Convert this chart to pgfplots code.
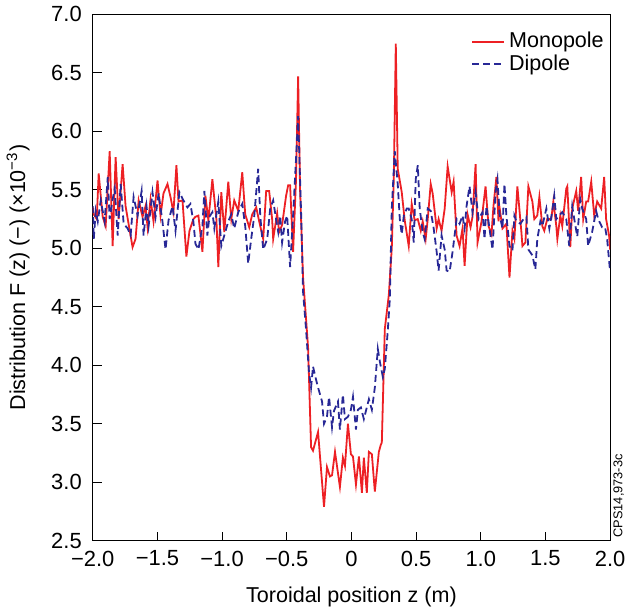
\documentclass[border=0pt]{standalone}
\usepackage{pgfplots}
\pgfplotsset{compat=1.18}
\usepackage{fontspec}
\setmainfont{Liberation Sans}
\definecolor{monored}{RGB}{237,32,36}
\definecolor{dipblue}{RGB}{40,40,150}
\begin{document}
\begin{tikzpicture}
\begin{axis}[
  scale only axis,
  clip mode=individual,
  width=259.5pt, height=264pt,
  xmin=-2, xmax=2, ymin=2.5, ymax=7.0,
  xtick={-2,-1.5,-1,-0.5,0,0.5,1,1.5,2},
  xticklabels={−2.0,−1.5,−1.0,−0.5,0,0.5,1.0,1.5,2.0},
  ytick={2.5,3,3.5,4,4.5,5,5.5,6,6.5,7},
  yticklabels={2.5,3.0,3.5,4.0,4.5,5.0,5.5,6.0,6.5,7.0},
  tick align=inside,
  xtick pos=bottom, ytick pos=left,
  major tick length=4.5pt,
  tick style={black, line width=0.5pt},
  axis line style={line width=0.6pt},
  ticklabel style={font=\fontsize{11}{12}\selectfont},
  yticklabel style={xshift=-2pt},
  xticklabel style={yshift=-1.5pt},
  label style={font=\fontsize{10.8}{12}\selectfont},
  xlabel={Toroidal position z (m)},
  ylabel={Distribution F (z) (−) (×10\textsuperscript{−3})},
  xlabel style={yshift=-3.5pt},
  ylabel style={yshift=4pt},
  legend style={at={(rel axis cs:1.0,0.978)}, anchor=north east, draw=none, fill=none,
    font=\fontsize{10.8}{12}\selectfont, row sep=-2pt, inner sep=1pt},
  legend cell align=left,
  legend image code/.code={\draw[#1] (0pt,0pt) -- (16pt,0pt);},
]
\addplot[monored, line width=0.9pt] coordinates {
(-2.000,5.35) (-1.992,5.29) (-1.969,5.25) (-1.954,5.64) (-1.923,5.27) (-1.900,5.19)
(-1.869,5.83) (-1.846,5.02) (-1.823,5.78) (-1.800,5.25) (-1.769,5.72) (-1.746,5.36)
(-1.723,5.21) (-1.692,5.01) (-1.669,5.08) (-1.645,5.41) (-1.615,5.27) (-1.592,5.36)
(-1.576,5.18) (-1.553,5.42) (-1.530,5.23) (-1.499,5.58) (-1.476,5.28) (-1.453,5.47)
(-1.422,5.55) (-1.399,5.44) (-1.376,5.31) (-1.353,5.71) (-1.337,5.40) (-1.306,5.41)
(-1.276,4.93) (-1.252,5.15) (-1.222,5.25) (-1.206,5.27) (-1.183,5.28) (-1.152,4.97)
(-1.129,5.45) (-1.106,5.24) (-1.075,5.59) (-1.044,5.25) (-1.029,4.84) (-1.006,5.48)
(-0.983,5.14) (-0.952,5.57) (-0.929,5.25) (-0.906,5.41) (-0.875,5.32) (-0.844,5.65)
(-0.821,5.29) (-0.790,5.18) (-0.767,5.29) (-0.736,5.35) (-0.713,5.23) (-0.682,5.08)
(-0.659,5.49) (-0.636,5.49) (-0.613,5.25) (-0.605,5.08) (-0.574,5.30) (-0.559,5.14)
(-0.536,5.20) (-0.505,5.45) (-0.489,5.54) (-0.474,5.54) (-0.451,4.97) (-0.428,5.60)
(-0.412,6.47) (-0.397,5.50) (-0.374,4.75) (-0.351,4.40) (-0.335,4.15) (-0.312,3.30)
(-0.297,3.27) (-0.258,3.43) (-0.212,2.79) (-0.189,3.13) (-0.166,3.05) (-0.150,3.06)
(-0.127,3.26) (-0.089,2.96) (-0.066,3.21) (-0.050,3.14) (-0.027,3.50) (-0.004,3.24)
(0.012,3.22) (0.035,2.98) (0.058,3.22) (0.081,2.91) (0.096,3.21) (0.119,2.91)
(0.135,3.26) (0.158,3.24) (0.181,2.92) (0.212,3.26) (0.227,3.32) (0.235,3.34)
(0.258,4.31) (0.289,4.60) (0.312,5.00) (0.328,5.62) (0.343,6.75) (0.358,5.68)
(0.389,5.48) (0.412,5.24) (0.443,5.02) (0.466,5.38) (0.489,5.24) (0.513,5.25)
(0.536,5.15) (0.551,5.23) (0.574,5.08) (0.590,5.25) (0.613,5.55) (0.628,5.47)
(0.659,5.17) (0.674,5.25) (0.697,5.15) (0.721,5.34) (0.744,5.70) (0.775,5.48)
(0.790,5.57) (0.813,5.11) (0.836,5.02) (0.859,5.17) (0.875,4.85) (0.898,5.29)
(0.921,5.18) (0.936,5.27) (0.960,5.72) (0.975,5.05) (1.006,5.23) (1.021,5.38)
(1.037,5.53) (1.060,5.19) (1.083,5.12) (1.098,5.36) (1.121,5.61) (1.137,5.23)
(1.145,5.35) (1.168,5.17) (1.198,5.21) (1.222,4.75) (1.245,5.15) (1.260,5.08)
(1.283,5.53) (1.314,5.14) (1.322,5.02) (1.345,5.05) (1.368,5.53) (1.399,5.40)
(1.414,5.25) (1.437,5.28) (1.453,5.44) (1.476,5.19) (1.491,5.15) (1.514,5.25)
(1.545,5.25) (1.561,5.40) (1.584,5.19) (1.592,5.08) (1.615,5.28) (1.630,5.19)
(1.661,5.51) (1.669,5.53) (1.692,5.01) (1.707,5.34) (1.738,5.49) (1.753,5.32)
(1.776,5.61) (1.792,5.25) (1.815,5.40) (1.830,5.40) (1.854,5.57) (1.877,5.28)
(1.900,5.40) (1.931,5.34) (1.954,5.61) (1.969,5.25) (1.992,5.11) (2.000,4.99)
};
\addlegendentry{Monopole}
\addplot[dipblue, line width=0.9pt, dash pattern=on 3.5pt off 2pt] coordinates {
(-2.000,5.36) (-1.992,5.08) (-1.977,5.32) (-1.961,5.23) (-1.938,5.41) (-1.908,5.23)
(-1.884,5.61) (-1.869,5.25) (-1.846,5.42) (-1.830,5.51) (-1.807,5.11) (-1.784,5.55)
(-1.761,5.21) (-1.730,5.17) (-1.707,5.11) (-1.684,5.44) (-1.653,5.28) (-1.622,5.49)
(-1.607,5.11) (-1.584,5.36) (-1.568,5.19) (-1.538,5.48) (-1.514,5.27) (-1.491,5.47)
(-1.461,5.23) (-1.437,4.99) (-1.414,5.24) (-1.383,5.36) (-1.360,5.15) (-1.330,5.48)
(-1.299,5.41) (-1.268,5.35) (-1.245,5.38) (-1.222,5.23) (-1.206,5.04) (-1.183,4.99)
(-1.152,5.19) (-1.137,5.49) (-1.114,5.11) (-1.098,5.27) (-1.075,5.31) (-1.060,5.17)
(-1.029,5.40) (-1.006,5.02) (-0.983,5.11) (-0.952,5.23) (-0.929,5.29) (-0.906,5.17)
(-0.875,5.31) (-0.844,5.38) (-0.821,5.19) (-0.798,4.87) (-0.775,5.08) (-0.751,5.28)
(-0.721,5.68) (-0.705,5.28) (-0.682,4.99) (-0.651,5.08) (-0.628,5.34) (-0.605,5.41)
(-0.574,5.19) (-0.566,5.14) (-0.551,5.28) (-0.536,5.05) (-0.513,5.23) (-0.497,5.28)
(-0.474,4.84) (-0.451,5.28) (-0.428,5.77) (-0.412,6.13) (-0.389,5.30) (-0.374,4.63)
(-0.351,4.31) (-0.328,3.94) (-0.312,3.81) (-0.297,3.99) (-0.274,3.88) (-0.258,3.81)
(-0.227,3.69) (-0.212,3.50) (-0.189,3.56) (-0.173,3.73) (-0.150,3.47) (-0.135,3.61)
(-0.104,3.69) (-0.089,3.45) (-0.066,3.75) (-0.050,3.54) (-0.027,3.56) (-0.004,3.62)
(0.012,3.73) (0.035,3.45) (0.050,3.62) (0.073,3.64) (0.096,3.54) (0.135,3.71)
(0.158,3.62) (0.181,3.81) (0.204,4.14) (0.220,4.03) (0.243,3.90) (0.258,3.97)
(0.282,4.31) (0.297,4.57) (0.312,5.34) (0.335,5.83) (0.358,5.55) (0.374,5.25)
(0.389,5.12) (0.405,5.28) (0.428,5.34) (0.443,5.34) (0.466,5.25) (0.482,5.05)
(0.497,5.59) (0.513,5.71) (0.528,5.34) (0.551,5.14) (0.566,5.08) (0.590,5.34)
(0.613,5.32) (0.636,5.17) (0.659,4.97) (0.674,4.81) (0.697,5.11) (0.721,4.99)
(0.736,4.81) (0.759,4.80) (0.782,4.97) (0.813,5.25) (0.836,5.21) (0.859,5.28)
(0.875,5.17) (0.890,5.36) (0.913,5.53) (0.936,5.31) (0.960,5.48) (0.983,5.25)
(1.014,5.31) (1.029,5.08) (1.044,5.36) (1.067,5.17) (1.091,4.99) (1.114,5.48)
(1.129,5.59) (1.145,5.29) (1.168,5.17) (1.183,5.55) (1.198,5.28) (1.222,5.02)
(1.245,4.98) (1.260,5.28) (1.276,5.23) (1.306,5.21) (1.330,5.25) (1.353,5.27)
(1.368,4.99) (1.399,4.94) (1.422,4.82) (1.437,5.08) (1.461,5.23) (1.476,5.19)
(1.507,5.34) (1.530,5.17) (1.553,5.32) (1.568,5.45) (1.584,5.25) (1.607,5.28)
(1.630,5.31) (1.661,5.25) (1.684,5.02) (1.707,5.36) (1.723,5.25) (1.746,5.10)
(1.769,5.42) (1.784,5.34) (1.815,5.25) (1.830,5.02) (1.861,5.14) (1.892,5.32)
(1.908,5.25) (1.938,5.18) (1.961,5.18) (1.977,5.08) (2.000,4.80)
};
\addlegendentry{Dipole}
\node[rotate=90, anchor=north west, font=\fontsize{6.4}{7}\selectfont, inner sep=0pt]
  at (rel axis cs:1,0) [xshift=1.5pt, yshift=-1.5pt] {CPS14,973-3c};
\end{axis}
\end{tikzpicture}
\end{document}
